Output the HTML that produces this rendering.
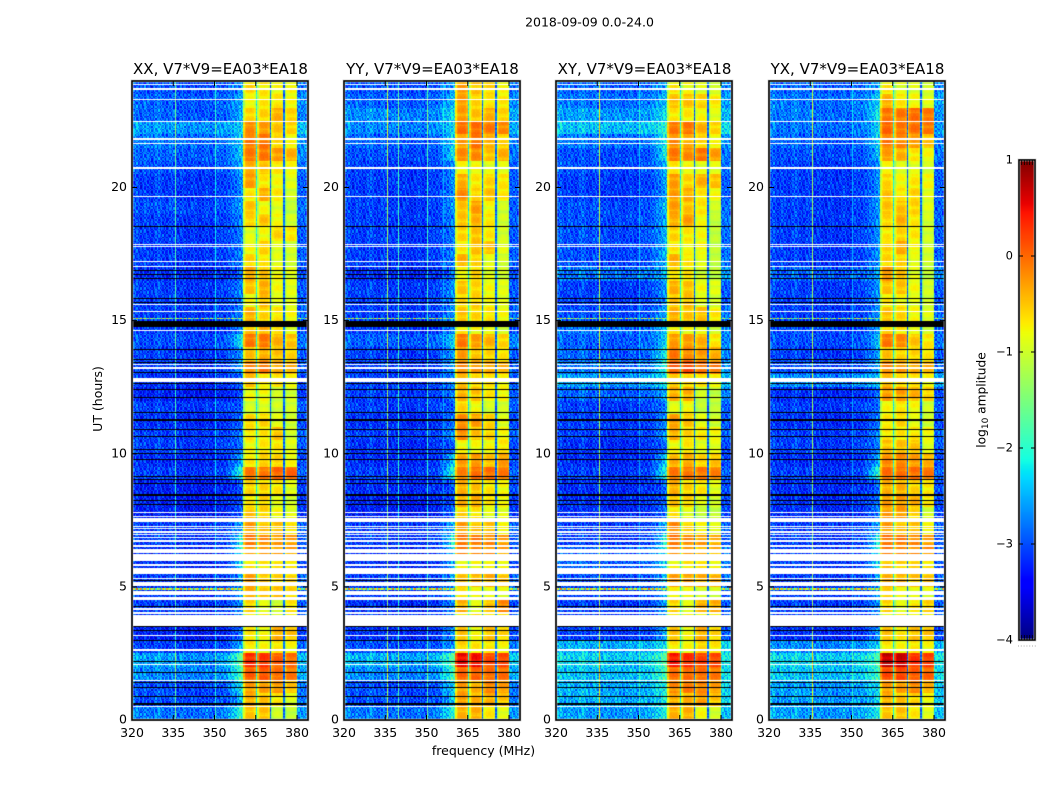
<!DOCTYPE html>
<html lang="en">
<head>
<meta charset="utf-8">
<title>2018-09-09 0.0-24.0</title>
<style>
html,body{margin:0;padding:0;background:#fff;}
#figure{position:relative;width:1050px;height:800px;overflow:hidden;background:#fff;}
canvas{position:absolute;display:block;}
svg{position:absolute;left:0;top:0;}
text{font-family:"DejaVu Sans","Liberation Sans",sans-serif;fill:#000;}
</style>
</head>
<body>
<div id="figure">
<canvas id="heat0"></canvas>
<canvas id="heat1"></canvas>
<canvas id="heat2"></canvas>
<canvas id="heat3"></canvas>
<canvas id="cbar"></canvas>
<svg id="overlay" width="1050" height="800" xmlns="http://www.w3.org/2000/svg"></svg>
</div>
<script>
// ---- chart text and ticks ----
const figureTitle = "2018-09-09 0.0-24.0";
const panelTitles = ["XX, V7*V9=EA03*EA18","YY, V7*V9=EA03*EA18","XY, V7*V9=EA03*EA18","YX, V7*V9=EA03*EA18"];
const freqTicks = [320,335,350,365,380];
const hourTicks = [0,5,10,15,20];
const colorTicks = [-4,-3,-2,-1,0,1];

// ---- rows per half hour, from 0 h upward: [background, shoulder, block1, block2, block3, block4] in log10 amplitude ----
const xxLevels = [
[-2.7,-1.8,-.5,-.5,-1,-1.1],[-2.9,-2.3,-.4,-.5,-.7,-.9],[-2.9,-2,-.3,-.3,-.3,-.5],[-2.6,-1.6,.05,.05,-.05,-.1],
[-2.5,-1.4,.3,.25,.05,-.05],[-3,-2.4,-.7,-.8,-.7,-.8],[-3.2,-2.8,-.7,-.8,-.4,-.5],[-3,-2.6,-.7,-.8,-.9,-.8],
[-3,-2.6,-.6,-.9,-1,-.7],[-3,-2.6,-.4,-.5,-.5,-.6],[-3,-2.5,-.3,-.5,-.6,-.6],[-3.1,-2.2,-.7,-.7,-.7,-.7],
[-3.1,-1.8,-.3,-.3,-.3,-.3],[-3,-2,-.1,-.2,-.3,-.3],[-3,-2.5,-.3,-.5,-.5,-.7],[-3.2,-2.9,-.5,-.6,-.8,-.9],
[-3.2,-3,-.7,-.6,-.9,-1],[-3.2,-2.9,-.6,-.6,-.7,-.9],[-3,-1.8,-.1,-.1,0,0],[-3.1,-2.4,-.7,-.6,-.6,-.8],
[-3,-2.8,-.8,-.7,-.7,-.9],[-3,-2.8,-.7,-.7,-.5,-1],[-3.1,-2.9,-.6,-.6,-.9,-1],[-3,-2.9,-1,-.9,-1,-1],
[-3.2,-3,-.8,-.8,-1,-1],[-3.1,-2.9,-.5,-.7,-.7,-.8],[-3,-2.5,-.2,-.1,-.4,-.4],[-3,-2.6,-.5,-.4,-.5,-.6],
[-2.9,-2,-.1,-.1,-.4,-.5],[-3,-2.7,-.5,-.4,-.7,-.9],[-3,-2.7,-.4,-.6,-.7,-.8],[-3,-2.7,-.8,-.5,-.9,-.9],
[-3,-2.7,-.5,-.4,-.8,-.9],[-3.1,-2.8,-.4,-.5,-.8,-.9],[-3,-2.7,-.6,-.7,-.9,-1],[-3,-2.7,-.8,-.6,-.9,-1],
[-3,-2.7,-.9,-.8,-.6,-.7],[-3,-2.7,-.6,-.5,-.8,-1],[-2.9,-2.6,-.5,-.8,-.9,-1.1],[-3,-2.6,-.7,-.4,-.7,-1],
[-3,-2.6,-.3,-.7,-.8,-.9],[-2.9,-2.5,-.4,-.5,-.7,-.8],[-2.8,-2.3,-.1,-.1,-.3,-.4],[-2.7,-2.4,-.1,-.1,-.6,-.8],
[-2.5,-2.3,-.2,-.3,-.5,-.6],[-2.8,-2.5,-.6,-.6,-.4,-.6],[-2.8,-2.5,-.8,-.7,-.7,-.8],[-2.9,-2.6,-.6,-.7,-.8,-.8]];
const yyLevels = [
[-2.7,-1.9,-.4,-.4,-.7,-.9],[-2.9,-2.2,-.3,-.4,-.4,-.5],[-2.9,-2.2,-.3,-.4,-.2,-.3],[-2.6,-1.7,0,0,-.05,-.05],
[-2.4,-1.5,.5,.45,.15,.15],[-2.9,-2.6,-.6,-.7,-.7,-.8],[-3.1,-2.6,-.5,-.8,-.5,-.6],[-3,-2.6,-.7,-.7,-.7,-.7],
[-3.1,-2.6,-.4,-.9,-.5,-.2],[-3,-2.6,-.7,-.8,-.9,-.9],[-3,-2.5,-.5,-.4,-.4,-.5],[-3.1,-2.5,-.8,-.8,-.8,-.8],
[-3.1,-2.1,-.1,-.2,-.2,-.3],[-3,-1.9,-.1,-.1,-.2,-.3],[-3,-2.4,-.3,-.5,-.5,-.8],[-3.2,-2.8,-.6,-.7,-.9,-.9],
[-3.2,-3,-.4,-.4,-.7,-.8],[-3.1,-2.9,-.4,-.5,-.7,-.8],[-3,-1.8,-.15,-.05,-.05,-.1],[-3.1,-2.2,-.3,-.3,-.5,-.3],
[-3.1,-2.9,-.8,-.8,-.8,-.7],[-3,-2.6,-.2,-.5,-.6,-.8],[-3.1,-2.8,-.2,-.3,-.6,-.9],[-3,-2.9,-.6,-.8,-1,-1],
[-3,-2.7,-.4,-.5,-.7,-.8],[-3,-2.7,-.5,-.6,-.7,-.8],[-3,-2.5,-.2,-.3,-.4,-.4],[-3,-2.5,-.3,-.5,-.6,-.7],
[-2.8,-2.2,-.1,-.3,-.4,-.6],[-3,-2.7,-.7,-.8,-.9,-1],[-3,-2.6,-.5,-.6,-.7,-.8],[-3,-2.6,-.6,-.6,-.8,-.9],
[-3,-2.6,-.5,-.6,-.8,-.9],[-3.1,-2.7,-.8,-.6,-.9,-1],[-3,-2.7,-.4,-.6,-.9,-1],[-3,-2.7,-.7,-.5,-.5,-.9],
[-3,-2.7,-.6,-.5,-.7,-1],[-3,-2.7,-.5,-.4,-.7,-1],[-3,-2.6,-.5,-.3,-.8,-1],[-3,-2.6,-.2,-.6,-.5,-.7],
[-3,-2.6,-.4,-.7,-.6,-.7],[-3,-2.7,-.8,-.8,-.9,-.9],[-2.9,-2.1,-.2,-.2,-.5,-.4],[-2.8,-2.3,-.3,-.1,-.4,-.6],
[-2.6,-2.2,-.05,-.05,-.1,-.2],[-2.6,-2.2,-.3,-.5,-.4,-.6],[-2.8,-2.4,-.3,-.6,-.7,-.7],[-2.9,-2.5,-.3,-.5,-.6,-.8]];
const xyLevels = [
[-2.5,-2,-.4,-.4,-.8,-1],[-2.4,-2,-.4,-.4,-.3,-.5],[-2.4,-2,-.2,-.1,-.2,-.3],[-2.3,-1.7,-.05,-.05,-.05,-.1],
[-2.2,-1.6,.4,.3,.2,.15],[-2.4,-2.2,-.7,-.8,-.6,-.7],[-3,-2.5,-.5,-.8,-.4,-.6],[-3,-2.5,-.7,-.8,-.8,-.8],
[-3,-2.5,-.6,-.9,-.4,-.4],[-3,-2.5,-.8,-.8,-1,-1],[-2.9,-2.4,-.3,-.3,-.4,-.4],[-2.8,-2.3,-.8,-.7,-.7,-.8],
[-2.8,-2,-.2,-.3,-.4,-.4],[-3,-1.9,-.1,-.2,-.3,-.4],[-3,-2.4,-.2,-.6,-.8,-.9],[-3.1,-2.8,-.7,-.9,-1.1,-1.1],
[-3.1,-2.9,-.5,-.6,-.9,-1],[-3.1,-2.8,-.4,-.6,-.7,-.9],[-3,-1.9,-.1,-.1,-.1,-.15],[-3.1,-2.2,-.4,-.4,-.6,-.5],
[-3.1,-2.8,-.8,-.7,-.9,-.9],[-3,-2.6,-.4,-.6,-.7,-.8],[-3,-2.7,-.3,-.5,-.9,-1],[-3,-2.7,-.9,-.8,-1.1,-1.1],
[-2.8,-2.5,-.4,-.4,-1,-1.1],[-2.5,-2.2,-.6,-.6,-.7,-.8],[-2.7,-1.9,.05,.15,-.1,-.1],[-2.8,-2,-.1,-.2,-.3,-.4],
[-2.8,-2.2,-.3,-.3,-.4,-.7],[-2.7,-2.4,-.7,-.8,-.9,-1],[-2.9,-2.5,-.4,-.5,-.5,-.7],[-3,-2.6,-.5,-.5,-.9,-1],
[-3,-2.6,-.4,-.5,-.8,-.9],[-2.7,-2.4,-.7,-.7,-1,-1.1],[-2.9,-2.4,-.4,-.7,-.9,-1.1],[-2.9,-2.4,-.7,-.8,-.8,-1.1],
[-2.9,-2.4,-.6,-.7,-.8,-1.1],[-2.9,-2.5,-.4,-.3,-.8,-1.1],[-2.9,-2.4,-.3,-.5,-.7,-1],[-3,-2.5,-.3,-.4,-.7,-.8],
[-3,-2.5,-.3,-.6,-.4,-.5],[-2.9,-2.5,-.7,-.8,-.9,-.9],[-2.9,-2,-.1,-.2,-.1,-.3],[-2.7,-2.1,-.2,-.4,-.6,-.8],
[-2.3,-1.9,-.1,-.1,-.4,-.6],[-2.5,-2.2,-.7,-.7,-.8,-.9],[-2.7,-2.4,-.5,-.5,-.6,-.7],[-2.8,-2.5,-.7,-.8,-.9,-1]];
const yxLevels = [
[-2.5,-2.1,-.5,-.5,-.7,-.9],[-2.5,-2.2,-.4,-.5,-.6,-.8],[-2.5,-2.2,-.3,-.3,-.2,-.4],[-2.3,-1.8,.15,.15,.05,0],
[-2.2,-1.7,.7,.65,.3,.2],[-2.6,-2.3,-.7,-.8,-.7,-.8],[-3.1,-2.6,-.5,-.7,-.5,-.5],[-3,-2.6,-.8,-.8,-.8,-.8],
[-3,-2.6,-.6,-.9,-.7,-.6],[-3,-2.6,-.6,-.8,-.9,-.9],[-3,-2.5,-.4,-.4,-.5,-.5],[-3,-2.2,-.5,-.6,-.6,-.7],
[-3,-1.9,-.1,-.2,-.2,-.2],[-3,-2,-.1,-.1,-.2,-.3],[-3,-2.5,-.3,-.5,-.5,-.8],[-3.1,-2.7,-.3,-.3,-.6,-1],
[-3.1,-2.8,-.3,-.3,-.4,-.7],[-3.1,-2.8,-.4,-.4,-.6,-.7],[-3,-1.8,-.05,-.05,-.05,-.1],[-3.1,-2.4,-.2,-.2,-.3,-.4],
[-3,-2.7,-.5,-.5,-.5,-.9],[-3,-2.7,-.7,-.7,-.7,-.8],[-3.1,-2.8,-.7,-.6,-.9,-1],[-3,-2.8,-.8,-.7,-.8,-1],
[-3.1,-2.8,-.3,-.3,-.4,-.6],[-2.6,-2.4,-.5,-.6,-.7,-.8],[-2.9,-2.5,-.2,-.3,-.4,-.4],[-3,-2.5,-.5,-.6,-.6,-.7],
[-2.9,-2.3,-.1,-.2,-.5,-.7],[-2.9,-2.6,-.6,-.7,-.9,-1],[-3,-2.6,-.5,-.6,-.8,-.9],[-3,-2.6,-.7,-.8,-.9,-1],
[-3,-2.6,-.5,-.5,-.8,-1],[-2.8,-2.5,-.3,-.5,-.9,-1.1],[-3,-2.6,-.6,-.6,-.9,-1],[-3,-2.6,-.6,-.4,-.8,-1],
[-3,-2.6,-.7,-.6,-.7,-1],[-3,-2.6,-.6,-.4,-.7,-1],[-3,-2.6,-.5,-.5,-.6,-.9],[-3,-2.6,-.5,-.7,-.6,-.9],
[-3,-2.6,-.6,-.8,-.7,-.8],[-3,-2.7,-.8,-.9,-.9,-1],[-2.9,-2.4,-.3,-.4,-.7,-.8],[-2.8,-2.3,-.1,-.2,-.3,-.5],
[-2.7,-2.2,0,-.1,-.05,-.1],[-2.7,-2.1,-.1,-.1,-.05,-.1],[-2.7,-2.3,-.4,-.7,-.8,-.9],[-2.8,-2.5,-.7,-.9,-.9,-1]];

// ---- channel structure ----
const subbandEdges = [360.5,365.5,370.5,375.5,380];
const blockShape = [-.42,-.1,0,.02,.03,.03,.02,0,-.12,-.45];
const notchLevels = [-2.2,-2.9,-2.9];
// background offset for each 1 MHz channel starting at 320 MHz
const channelProfile = [-.05,0,-.1,-.2,-.05,-.1,-.15,-.2,-.05,0,-.05,-.15,-.2,-.1,-.05,-.15,-.2,-.15,-.1,-.2,-.25,-.15,-.1,-.2,-.25,-.2,-.15,-.1,-.2,-.25,-.15,-.1,-.1,-.15,-.1,-.1,-.05,-.1,-.1,-.05,-.05,0,-.05,0,.05,.05,.05,.05,.1,.1,.1,.1,.1,.1,.1,.1,.1,.1,.1,.1,.05,.05,.05,.05];
// shoulder weight for each 1 MHz channel from 352 MHz to 360 MHz
const shoulderWeights = [0,.04,.1,.18,.3,.45,.62,.8,.95];
// bright interference channels per panel: [frequency MHz, boost]
const xxLines = [[335.5,1.2],[350,.8]];
const yyLines = [[335.5,1.7],[339.5,1.1],[350,1.1],[356,.5]];
const xyLines = [[335.5,1.8],[350,.5]];
const yxLines = [[335.5,1.7],[350,.5]];
// hand-typed pixel grain lookup
const grain = [.3,-.6,.9,-.2,-.8,.5,.1,-.9,.7,.2,-.4,1,-.7,.1,.6,-.3,-1,.4,.8,-.5,.2,-.1,.9,-.8,.3,.6,-.6,0,-.9,.7,-.2,.5,.4,-.7,1,-.4,-.1,.8,-.9,.2,.6,-.5,.3,-.8,.7,.1,-.3,.9,-.6,.4,-.2,.8,-1,.5,.2,-.7,.6,-.1,.3,-.4,.9,-.8,0,.5];
// ripple across the half-hour rows inside the band
const bandRipple = [.03,.06,.06,.05,.02,-.02,-.12,-.05];

// ---- flagged rows in hours: [start, end] ----
const whiteRows = [[23.84,23.9],[23.68,23.72],[23.28,23.32],[22.46,22.5],[21.78,21.86],[21.65,21.69],[20.7,20.77],[19.65,19.69],[17.83,17.87],[17.75,17.79],[17.21,17.25],[17.02,17.06],[15.58,15.62],[15.33,15.37],[14.6,14.64],[13.32,13.36],[13.2,13.24],[12.71,12.86],
[7.79,7.83],[7.63,7.67],[7.45,7.57],[7.25,7.29],[7.17,7.21],[7.04,7.08],[6.93,6.97],[6.83,6.87],[6.69,6.75],[6.49,6.58],[6.27,6.42],[5.96,6.25],[5.77,5.87],[5.47,5.7],[5.29,5.34],[5.04,5.19],[4.69,4.85],[4.5,4.62],[4.12,4.22],[4,4.05],[3.52,3.94],[3.14,3.18],[2.61,2.68],[2.07,2.11],[1.46,1.5],[.48,.52]];
const blackRows = [[18.51,18.55],[16.85,16.89],[16.71,16.75],[16.55,16.59],[15.8,15.84],[15.66,15.7],[14.77,15],[13.9,13.94],[13.53,13.57],[13.41,13.45],[13.04,13.08],[12.63,12.67],[12.38,12.42],[12.1,12.14],[11.52,11.56],[11.22,11.29],[10.88,10.92],[10.62,10.66],[10.15,10.19],[10,10.04],[9.78,9.82],[9.13,9.17],[9.02,9.06],[8.87,8.91],[8.43,8.47],[8.22,8.26],[8.07,8.11],[5.23,5.27],[4.23,4.27],[3.48,3.52],[3.35,3.39],[2.98,3.02],[2.17,2.21],[1.77,1.81],[1.38,1.42],[1.19,1.23],[.88,.92],[.58,.62]];
// interference rows in the background: [start hour, end hour, level]
const hotRows = [[15.05,15.1,-1.5],[4.9,4.95,-1.2]];

const panelLevels = [xxLevels,yyLevels,xyLevels,yxLevels];
const panelLines = [xxLines,yyLines,xyLines,yxLines];

// ---- layout ----
const panelLeft = [132,344,556,769];
const panelWidth = 176;
const panelTop = 81;
const panelHeight = 639;
const freqMin = 320, freqMax = 384, hourMin = 0, hourMax = 24;
const cbarLeft = 1019, cbarTop = 160, cbarWidth = 16, cbarHeight = 480;
const colorMin = -4, colorMax = 1;

// ---- axis functions ----
function xFreq(p, f){ return panelLeft[p] + (f - freqMin) / (freqMax - freqMin) * panelWidth; }
function yHour(h){ return panelTop + panelHeight - (h - hourMin) / (hourMax - hourMin) * panelHeight; }
function yColor(v){ return cbarTop + cbarHeight - (v - colorMin) / (colorMax - colorMin) * cbarHeight; }

// ---- jet colormap ----
const jetR = [[0,0],[.35,0],[.66,1],[.89,1],[1,.5]];
const jetG = [[0,0],[.125,0],[.375,1],[.64,1],[.91,0],[1,0]];
const jetB = [[0,.5],[.11,1],[.34,1],[.65,0],[1,0]];
function ramp(stops, t){
  for (let i = 1; i < stops.length; i++) {
    if (t <= stops[i][0]) {
      const a = stops[i-1], b = stops[i];
      return a[1] + (b[1]-a[1]) * (t-a[0]) / (b[0]-a[0]);
    }
  }
  return stops[stops.length-1][1];
}
function jet(v){
  const t = Math.max(0, Math.min(1, (v - colorMin) / (colorMax - colorMin)));
  return 'rgb(' + Math.round(255*ramp(jetR,t)) + ',' + Math.round(255*ramp(jetG,t)) + ',' + Math.round(255*ramp(jetB,t)) + ')';
}

// ---- cell value from the arrays ----
const freqStep = .5, hourStep = .05, levelStep = .5;
function cellValue(p, col, row){
  const f = freqMin + col * freqStep;
  const h = hourMin + row * hourStep;
  const lv = panelLevels[p][Math.min(47, Math.floor(h / levelStep))];
  const g = grain[(col + row * 23 + Math.floor(row / 5) * 11) % grain.length];
  if (f >= subbandEdges[0] && f < subbandEdges[4]) {
    let s = 0;
    while (f >= subbandEdges[s+1]) s++;
    const idx = Math.round((f - subbandEdges[s]) / freqStep);
    if (idx === 9 && s < 3) return notchLevels[s] + g * .25;
    return lv[2+s] + blockShape[idx] + bandRipple[(row + s * 3) % bandRipple.length] + g * .05;
  }
  const chan = Math.floor(f - freqMin);
  let v = lv[0] + channelProfile[chan];
  if (f >= 352 && f < 360.5) {
    const w = shoulderWeights[Math.floor(f - 352)];
    v = v + w * (lv[1] - v);
  }
  v += g * .5;
  for (const line of panelLines[p]) {
    if (f <= line[0] && line[0] < f + freqStep) v = Math.max(v, lv[0] + line[1]);
  }
  for (const hot of hotRows) {
    if (h >= hot[0] && h < hot[1]) v = hot[2] + g * 1.2;
  }
  return v;
}

// ---- draw heatmaps ----
function drawHeat(p){
  const cv = document.getElementById('heat' + p);
  cv.width = panelWidth;
  cv.height = panelHeight;
  cv.style.left = panelLeft[p] + 'px';
  cv.style.top = panelTop + 'px';
  const c = cv.getContext('2d');
  const cols = Math.round((freqMax - freqMin) / freqStep);
  const rows = Math.round((hourMax - hourMin) / hourStep);
  for (let r = 0; r < rows; r++) {
    const y0 = Math.round(yHour(r * hourStep + hourStep)) - panelTop;
    const y1 = Math.round(yHour(r * hourStep)) - panelTop;
    for (let k = 0; k < cols; k++) {
      const x0 = Math.round(xFreq(p, freqMin + k * freqStep)) - panelLeft[p];
      const x1 = Math.round(xFreq(p, freqMin + (k + 1) * freqStep)) - panelLeft[p];
      c.fillStyle = jet(cellValue(p, k, r));
      c.fillRect(x0, y0, x1 - x0, y1 - y0);
    }
  }
  function band(list, color){
    c.fillStyle = color;
    for (const b of list) {
      const yTop = Math.round(yHour(b[1])) - panelTop;
      const yBot = Math.round(yHour(b[0])) - panelTop;
      c.fillRect(0, yTop, panelWidth, Math.max(1, yBot - yTop));
    }
  }
  band(whiteRows, '#fff');
  band(blackRows, '#000');
}
for (let p = 0; p < 4; p++) drawHeat(p);

// ---- draw colorbar ----
(function(){
  const cv = document.getElementById('cbar');
  cv.width = cbarWidth;
  cv.height = cbarHeight;
  cv.style.left = cbarLeft + 'px';
  cv.style.top = cbarTop + 'px';
  const c = cv.getContext('2d');
  for (let y = 0; y < cbarHeight; y++) {
    c.fillStyle = jet(colorMax - (y + .5) / cbarHeight * (colorMax - colorMin));
    c.fillRect(0, y, cbarWidth, 1);
  }
})();

// ---- svg overlay ----
const svg = document.getElementById('overlay');
const NS = 'http://www.w3.org/2000/svg';
function addText(name, str, x, y, size, anchor){
  const el = document.createElementNS(NS, 'text');
  
  
  el.setAttribute('x', x);
  el.setAttribute('y', y);
  el.setAttribute('font-size', size);
  el.setAttribute('text-anchor', anchor);
  el.textContent = str;
  svg.appendChild(el);
  return el;
}
function addLine(name, x1, y1, x2, y2, color, width){
  const el = document.createElementNS(NS, 'line');
  
  
  el.setAttribute('x1', x1);
  el.setAttribute('y1', y1);
  el.setAttribute('x2', x2);
  el.setAttribute('y2', y2);
  el.setAttribute('stroke', color);
  el.setAttribute('stroke-width', width);
  svg.appendChild(el);
  return el;
}
function addFrame(name, x, y, w, h){
  const rim = document.createElementNS(NS, 'rect');
  
  
  rim.setAttribute('x', x);
  rim.setAttribute('y', y);
  rim.setAttribute('width', w);
  rim.setAttribute('height', h);
  rim.setAttribute('fill', 'none');
  rim.setAttribute('stroke', '#b8b8b8');
  rim.setAttribute('stroke-width', 2.6);
  svg.appendChild(rim);
  const el = document.createElementNS(NS, 'rect');
  
  
  el.setAttribute('x', x);
  el.setAttribute('y', y);
  el.setAttribute('width', w);
  el.setAttribute('height', h);
  el.setAttribute('fill', 'none');
  el.setAttribute('stroke', '#000');
  el.setAttribute('stroke-width', 1.4);
  svg.appendChild(el);
}

addText('figure-title', figureTitle, 589.5, 26.5, 12.5, 'middle');

for (let p = 0; p < 4; p++) {
  const left = panelLeft[p], right = left + panelWidth;
  const top = panelTop, bottom = panelTop + panelHeight;
  addFrame('panel-frame', left, top, panelWidth, panelHeight);
  addText('panel-title', panelTitles[p], left + panelWidth / 2 + .5, 74, 15, 'middle');
  for (const f of freqTicks) {
    const x = xFreq(p, f);
    addLine('x-tick-bottom', x, bottom, x, bottom - 5, '#000', 1);
    addLine('x-tick-top', x, top, x, top + 5, '#000', 1);
    addText('x-tick-label', String(f), x, 737, 12.5, 'middle');
  }
  for (const h of hourTicks) {
    const y = yHour(h);
    addLine('y-tick-left', left, y, left + 5, y, '#000', 1);
    addLine('y-tick-right', right, y, right - 5, y, '#000', 1);
    addText('y-tick-label', String(h), left - 5, y + 3.5, 12.5, 'end');
  }
}

addText('x-axis-title', 'frequency (MHz)', 483.5, 755, 12.5, 'middle');
const yTitle = addText('y-axis-title', 'UT (hours)', 0, 0, 12.5, 'middle');
yTitle.setAttribute('transform', 'translate(102,399) rotate(-90)');

// colorbar decorations
addFrame('colorbar-frame', cbarLeft, cbarTop, cbarWidth, cbarHeight);
for (const v of colorTicks) {
  const y = yColor(v);
  addLine('colorbar-tick-left', cbarLeft, y, cbarLeft + 4, y, '#000', 1);
  addLine('colorbar-tick-right', cbarLeft + cbarWidth, y, cbarLeft + cbarWidth - 4, y, '#000', 1);
  addText('colorbar-tick-label', (v < 0 ? '\u2212' + (-v) : String(v)), cbarLeft - 6, y + 3.5, 11.5, 'end');
}
for (const k of [1,2,3,4,5]) {
  const x = cbarLeft + k * cbarWidth / 6;
  addLine('colorbar-minor-tick-top', x, cbarTop, x, cbarTop + 5, '#000', .8);
  addLine('colorbar-minor-tick-bottom', x, cbarTop + cbarHeight, x, cbarTop + cbarHeight - 5, '#000', .8);
}
for (const k of [0,1,2,3,4,5,6]) {
  addLine('colorbar-dot', 1018 + k * 2.8, 646, 1019 + k * 2.8, 646, '#aaa', 1);
}
const cbarTitle = addText('colorbar-title', 'log', 0, 0, 12.2, 'middle');
cbarTitle.setAttribute('transform', 'translate(985.5,400) rotate(-90)');
const cbarSub = document.createElementNS(NS, 'tspan');


cbarSub.setAttribute('dy', '2.5');
cbarSub.setAttribute('font-size', '9');
cbarSub.textContent = '10';
cbarTitle.appendChild(cbarSub);
const cbarRest = document.createElementNS(NS, 'tspan');


cbarRest.setAttribute('dy', '-2.5');
cbarRest.textContent = ' amplitude';
cbarTitle.appendChild(cbarRest);
</script>
</body>
</html>
